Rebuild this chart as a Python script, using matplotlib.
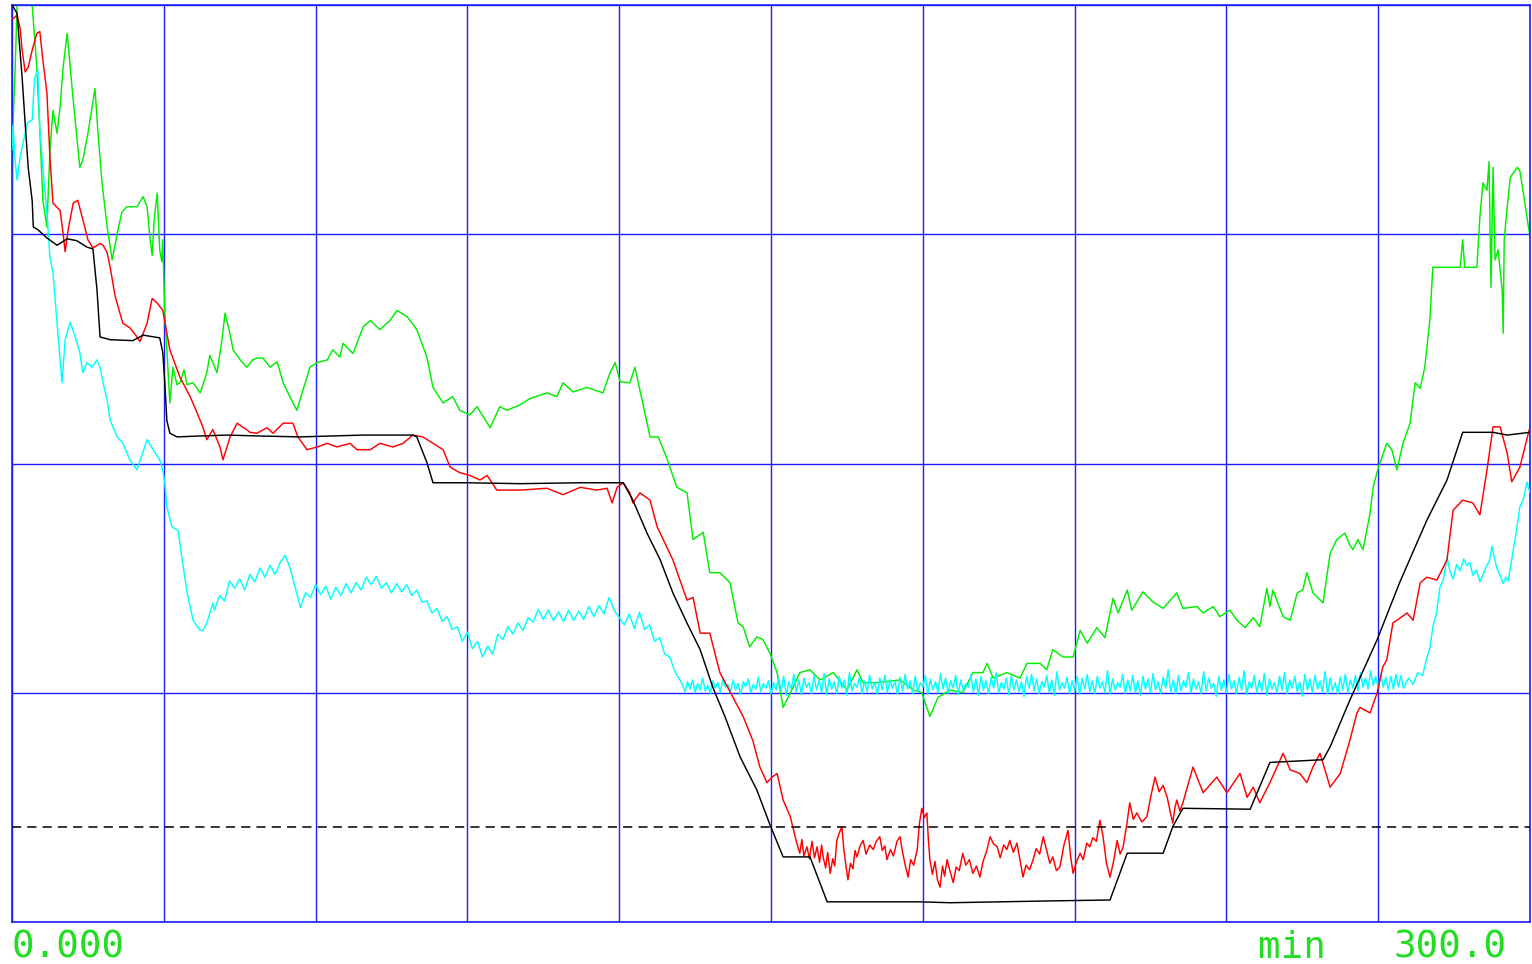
import numpy as np
import matplotlib
matplotlib.use("Agg")
import matplotlib.pyplot as plt

# ---- recorded traces (time in min, signal in % of full scale) ----
black_t = [0, 1.0, 2.0, 2.6, 3.2, 4.0, 4.2, 5.1, 6.9, 8.9, 10.9, 12.8, 14.8, 16.0, 16.8, 17.4,
           19.4, 23.9, 25.9, 29.2, 29.8, 30.2, 30.6, 31.2, 32.6, 37.2, 42.5, 49.0, 56.9, 69.4,
           79.2, 80.0, 82.0, 83.2, 89.9, 100.4, 112.3, 118.2, 120.8, 122.7, 125.5, 128.1, 130.6,
           133.4, 136.0, 138.5, 140.9, 143.9, 147.2, 149.8, 152.4, 157.7, 161.1, 179.4, 185.4,
           195.3, 205.1, 217.0, 220.4, 227.5, 229.4, 231.4, 244.7, 248.6, 259.1, 260.5, 264.4,
           269.8, 274.3, 279.6, 283.6, 286.7, 292.7, 295.5, 300.0]
black_v = [100.0, 99.1, 92.1, 87.1, 82.3, 78.6, 75.8, 75.5, 74.6, 73.8, 74.5, 74.3, 73.6, 73.4, 68.9, 63.8,
           63.5, 63.4, 64.0, 63.7, 62.1, 58.8, 54.7, 53.3, 52.9, 53.0, 53.1, 53.0, 52.9, 53.1,
           53.1, 52.9, 50.1, 47.9, 47.9, 47.8, 47.9, 47.9, 47.9, 46.0, 42.4, 39.5, 35.9,
           32.6, 29.7, 25.6, 22.4, 18.0, 14.4, 10.6, 7.1, 7.1, 2.2, 2.2, 2.1,
           2.2, 2.3, 2.4, 7.5, 7.5, 10.4, 12.4, 12.3, 17.4, 17.7, 19.1, 24.2,
           30.8, 37.1, 43.8, 48.2, 53.4, 53.4, 53.1, 53.4]

red_t = [0, 1.0, 1.6, 2.0, 2.6, 3.2, 4.0, 4.9, 5.5, 6.1, 6.9, 7.5, 8.1, 9.5, 10.1, 10.5, 11.1, 12.1,
         13.0, 14.0, 15.0, 16.0, 17.4, 18.0, 18.8, 19.4, 20.4, 21.9, 23.3, 24.7, 25.3, 26.7, 27.7,
         28.7, 29.8, 31.2, 33.2, 35.2, 36.6, 37.7, 38.5, 39.7, 41.1, 41.7, 43.1, 44.5, 45.5, 46.4,
         47.0, 48.4, 50.4, 51.6, 53.6, 55.5, 56.5, 58.3, 60.3, 62.3, 64.2, 66.8, 68.2, 70.8, 72.7,
         75.3, 77.3, 79.2, 81.2, 83.2, 85.2, 86.6, 88.5, 90.5, 92.5, 93.9, 95.8, 100.4, 105.7, 108.9,
         112.3, 115.6, 117.6, 118.6, 119.6, 120.8, 122.1, 122.7, 124.1, 126.1, 127.5, 129.4, 130.6,
         132.0, 133.4, 134.6, 136.0, 137.9, 139.9, 142.5, 144.5, 146.4, 147.8, 149.2, 150.2, 151.2,
         152.4, 153.8,
         155.1, 155.7, 156.1, 156.5, 157.1, 157.6, 158.1, 158.6, 159.1, 159.6, 160.0, 160.3, 160.8,
         161.2, 161.7, 162.2, 162.6, 163.0, 163.5, 164.0, 164.4, 164.8, 165.2, 165.7, 166.2, 166.6,
         167.0, 167.6, 168.2, 168.8, 169.5, 170.2, 170.8, 171.5, 172.0, 172.5, 172.9, 173.6, 174.2,
         174.9, 175.5, 176.0, 176.6, 177.1, 177.6, 178.2, 178.9, 179.3, 179.8, 180.3, 180.8, 181.1,
         181.4, 181.9, 182.4, 182.9, 183.4, 183.9, 184.3, 184.8, 185.4, 186.0, 186.6, 187.2, 187.9,
         188.5, 189.2, 189.9, 190.6, 191.3, 191.9, 192.6, 193.3, 194.0, 194.7, 195.3, 196.0, 196.6,
         197.2, 197.9, 198.6, 199.2, 199.8, 200.4, 201.1, 201.8, 202.4, 203.1, 203.8, 204.4, 205.1,
         205.7, 206.4, 207.1, 207.9, 208.7, 209.2, 209.7, 210.4, 211.1, 211.7, 212.4, 213.0, 213.6,
         214.3, 215.0, 215.6, 216.3, 217.0, 217.7, 218.4, 219.0, 219.6, 220.3, 220.9, 221.6, 222.3,
         223.3, 224.3, 225.1, 225.9, 226.7, 227.5, 228.3, 228.9, 229.4, 229.8, 230.2, 230.8, 231.4,
         233.4, 235.4, 238.1, 240.1, 242.7, 244.1, 245.3, 246.6, 248.6, 250.0, 251.2, 252.6,
         254.5, 255.9, 257.1, 258.5, 260.5, 262.5, 264.4, 265.8, 266.4, 268.4, 269.8, 270.9, 271.7,
         272.9, 273.7, 275.7, 276.9, 278.3, 279.6, 281.6, 283.6, 284.8, 286.7, 288.7, 290.1, 291.5,
         292.7, 294.1, 295.5, 296.4, 298.0, 300.0]
red_v = [98.4, 98.9, 97.5, 95.1, 92.7, 93.2, 95.1, 96.9, 97.1, 94.0, 90.4, 83.4, 78.4, 77.6, 75.1, 73.1, 75.5, 78.4,
         78.7, 76.6, 74.4, 73.5, 74.0, 73.8, 73.0, 71.4, 68.2, 65.3, 64.8, 63.8, 63.3, 65.3, 68.0,
         67.5, 66.7, 62.4, 59.4, 57.3, 55.5, 54.0, 52.6, 53.7, 51.8, 50.4, 52.9, 54.4, 54.0, 53.7,
         53.4, 53.3, 53.9, 53.3, 54.4, 54.4, 52.9, 51.5, 51.8, 52.2, 51.8, 52.2, 51.5, 51.5, 52.2,
         51.8, 52.2, 53.1, 52.9, 52.2, 51.5, 49.6, 49.0, 48.7, 48.2, 48.7, 47.1, 47.1, 47.3, 46.6,
         47.4, 47.1, 47.3, 45.7, 47.4, 47.9, 46.8, 45.7, 46.8, 46.0, 43.1, 40.9, 39.5,
         37.3, 35.1, 35.4, 31.5, 31.5, 27.2, 24.5, 22.4, 19.8, 16.9, 15.2, 15.8, 16.2,
         13.3, 11.5,
         8.6, 7.5, 9.0, 7.2, 8.2, 6.9, 8.8, 7.0, 8.2, 6.5, 8.4, 7.1, 5.9,
         7.6, 5.3, 6.9, 6.1, 8.9, 9.7, 10.4, 7.9, 6.2, 4.6, 6.4, 5.8, 7.8,
         7.1, 8.3, 8.9, 7.4, 8.4, 7.9, 8.8, 9.3, 7.8, 8.3, 6.8, 7.9, 7.2,
         8.8, 9.3, 7.6, 6.0, 4.9, 6.8, 6.2, 7.9, 10.6, 12.4, 11.4, 11.9, 9.0,
         6.8, 5.2, 6.6, 4.6, 3.8, 6.1, 5.0, 6.8, 5.5, 4.3, 6.0, 5.6, 7.5,
         6.2, 6.8, 5.3, 6.1, 4.9, 6.6, 7.7, 9.3, 8.5, 8.2, 7.0, 8.4, 7.9,
         8.9, 7.6, 8.6, 6.8, 4.9, 6.2, 5.7, 6.8, 8.0, 7.4, 9.3, 8.0, 6.4,
         7.1, 5.6, 6.0, 8.4, 10.0, 7.2, 5.3, 6.6, 7.5, 6.8, 8.6, 8.2, 9.2,
         8.8, 11.1, 9.4, 6.4, 4.9, 6.6, 8.9, 7.4, 8.2, 10.6, 13.0, 11.2, 11.9,
         10.9, 11.5, 13.8, 15.8, 14.2, 14.9, 13.6, 12.0, 10.8, 12.4, 13.3, 12.1, 13.0,
         16.9, 14.1, 15.8, 14.1, 16.2, 13.6, 14.7, 13.0, 15.2, 16.9, 18.4, 16.6,
         16.2, 15.2, 16.9, 18.4, 14.7, 16.2, 19.8, 22.8, 23.4, 22.8, 25.0, 27.8, 28.6,
         32.6, 32.9, 33.7, 32.9, 37.0, 37.6, 37.3, 39.5, 44.9, 46.0, 45.7, 44.4, 49.3,
         54.0, 54.0, 51.1, 48.0, 49.6, 54.0]

green_t = [0, 0.2, 0.6, 1.0, 4.0, 4.2, 4.9, 5.5, 6.1, 6.9, 7.1, 7.5, 8.1, 8.9, 9.5, 10.1, 10.9, 11.5,
           12.1, 13.4, 14.0, 15.0, 16.4, 17.0, 17.8, 18.8, 19.8, 20.8, 21.7, 22.7, 24.7, 25.9, 26.7,
           27.3, 27.7, 28.1, 28.7, 29.2, 29.6, 29.8, 30.2, 30.6, 31.2, 31.8, 32.6, 33.2, 34.0, 34.6,
           35.8, 37.2, 38.5, 39.1, 40.5, 41.5, 42.1, 42.9, 43.7, 45.1, 46.4, 47.6, 48.4, 49.6, 51.0,
           52.4, 53.6, 54.9, 56.3, 57.5, 58.9, 60.3, 62.3, 63.4, 64.8, 65.4, 67.4, 69.4, 70.8, 72.7,
           74.7, 76.1, 78.1, 80.0, 82.0, 83.2, 85.2, 87.1, 88.5, 90.5, 91.9, 94.5, 96.4, 97.8, 100.4,
           102.4, 105.7, 107.7, 108.9, 110.9, 113.6, 116.8, 118.2, 119.2, 120.2, 122.1, 123.1, 124.1,
           126.1, 127.7, 129.4, 131.4, 133.4, 134.6, 136.6, 137.9, 139.9, 141.9, 143.5, 144.5, 145.8,
           147.2, 148.4, 149.8, 151.2, 152.4, 154.1, 155.7, 157.7, 159.7, 162.3, 165.0, 167.0, 168.2,
           170.9, 175.5, 178.1, 179.8, 181.4, 183.0, 185.4, 187.9, 189.9, 191.9, 192.7, 193.9, 196.6,
           199.2, 200.6, 203.2, 204.5, 205.7, 207.7, 209.7, 211.1, 212.5, 214.4, 216.0, 217.6, 218.6,
           220.4, 221.3, 223.5, 225.5, 227.5, 230.2, 231.4, 234.2, 235.4, 237.4, 238.7, 240.7, 242.1,
           243.7, 245.3, 246.6, 248.0, 248.6, 249.2, 251.2, 252.6, 254.0, 255.1, 255.9, 257.1, 259.1,
           260.5, 261.8, 263.4, 264.4, 265.0, 266.0, 267.0, 268.4, 269.0, 270.0, 271.7, 272.7, 273.7,
           274.9, 276.3, 277.3, 278.3, 279.2, 280.2, 280.8, 284.2, 286.2, 286.7, 287.1, 289.5, 290.1,
           290.7, 291.5, 291.9, 292.3, 292.7, 293.1, 293.7, 294.5, 294.7, 294.9, 295.5, 296.1, 297.5,
           298.0, 298.6, 299.6, 300.0]
green_v = [75.1, 87.1, 92.6, 100.0, 100.0, 98.4, 93.2, 86.4, 78.7, 75.8, 78.7, 84.2, 88.5, 86.0, 88.9, 93.2, 96.9, 93.2,
           89.6, 82.3, 83.1, 86.0, 90.9, 86.0, 80.6, 75.8, 72.2, 75.1, 77.4, 78.0, 78.0, 79.1, 78.0,
           74.4, 72.7, 76.6, 79.5, 73.3, 72.0, 74.4, 66.4, 62.4, 56.6, 60.5, 58.6, 58.8, 60.2, 58.6,
           58.8, 57.7, 59.9, 61.8, 59.9, 63.5, 66.4, 64.6, 62.4, 61.3, 60.5, 61.3, 61.5, 61.5, 60.5,
           61.1, 58.8, 57.3, 55.8, 58.0, 60.5, 61.0, 61.3, 62.4, 61.6, 63.1, 62.0, 64.9, 65.6, 64.6,
           65.6, 66.7, 66.0, 64.6, 61.6, 58.3, 56.6, 57.3, 55.8, 55.3, 56.2, 53.9, 56.2, 55.8, 56.4,
           57.1, 57.7, 57.3, 58.8, 57.8, 58.3, 57.7, 59.9, 61.0, 58.9, 58.8, 60.5, 58.0,
           52.9, 52.9, 50.6, 47.4, 46.8, 41.7, 42.5, 38.1, 38.1, 37.0, 32.6, 32.2, 30.0,
           31.1, 30.8, 29.3, 27.2, 23.4, 25.3, 27.2, 27.5, 26.4, 27.2, 25.3, 27.5, 26.1,
           26.1, 26.4, 25.3, 25.0, 22.4, 24.5, 25.3, 25.0, 27.2, 27.2, 28.2, 26.6, 27.2,
           26.6, 28.2, 28.2, 27.5, 29.7, 28.9, 28.9, 31.8, 30.4, 32.1, 31.0, 35.3, 33.7,
           36.2, 34.0, 36.0, 34.9, 34.2, 35.9, 34.2, 34.4, 33.7, 34.4, 33.3, 34.0, 32.9,
           32.1, 33.2, 32.2, 36.4, 34.4, 36.2, 33.3, 32.9, 35.9, 36.2, 38.1, 35.9, 34.8,
           40.2, 41.7, 42.4, 41.1, 40.6, 41.7, 40.6, 44.6, 47.4, 49.5, 52.2, 51.5, 49.3,
           52.2, 54.4, 58.8, 58.2, 60.5, 65.6, 71.4, 71.4, 71.4, 74.4, 71.4, 71.4, 76.9,
           80.6, 79.8, 82.9, 69.2, 82.3, 72.2, 73.3, 68.9, 64.2, 74.4, 78.0, 81.2, 82.3,
           81.9, 79.8, 76.2, 74.7]

# cyan: irregular start, then regular samples (1 min, then 0.5 min), then the final rise
cyan_head_t = [0, 0.2, 0.6, 1.0, 1.6, 2.2, 3.0, 4.0, 4.2, 4.5, 5.1, 5.5, 6.1, 6.9, 7.5, 8.1, 8.9,
               9.9, 10.5, 11.5, 12.5, 13.4, 14.0, 14.8, 15.8, 16.8, 17.4, 18.0, 18.8, 19.4, 20.8,
               21.9, 23.3, 24.7, 26.7, 27.9, 29.2, 29.8, 30.2, 30.6, 31.6, 32.8, 34.6, 35.8, 36.6,
               37.2, 37.7, 38.5, 39.1, 39.7]
cyan_head_v = [84.2, 86.9, 83.1, 80.9, 83.4, 85.0, 87.1, 87.5, 89.6, 92.1, 92.9, 86.4, 82.3, 77.3, 72.5, 70.8, 65.3,
               58.8, 63.5, 65.4, 63.8, 62.1, 59.9, 61.0, 60.5, 61.3, 60.5, 58.8, 56.9, 54.7, 52.9,
               52.2, 50.4, 49.3, 52.6, 51.5, 50.4, 49.3, 47.9, 45.3, 43.1, 42.7, 35.9, 32.9, 32.2,
               31.8, 31.8, 32.6, 33.7, 34.8]
# one reading per minute, 40 .. 132 min
cyan_minute_v = [34.0, 35.6, 35.0, 37.2, 36.4, 37.4, 36.2, 37.9, 37.1, 38.6,
                 37.6, 38.9, 37.9, 39.2, 40.0, 38.5, 36.4, 34.3, 35.9, 35.4,
                 36.8, 35.7, 36.6, 35.2, 36.5, 35.6, 36.9, 35.9, 37.0, 36.2,
                 37.6, 36.8, 37.7, 36.4, 37.0, 35.9, 36.9, 36.0, 36.8, 35.6,
                 36.2, 34.9, 35.0, 33.7, 34.2, 32.8, 33.3, 31.9, 32.2, 30.6,
                 31.6, 29.8, 30.6, 28.9, 30.1, 29.2, 31.4, 30.8, 32.2, 31.4,
                 32.6, 31.8, 33.2, 32.7, 34.1, 33.0, 34.0, 32.9, 33.8, 32.8,
                 34.0, 32.9, 33.9, 33.0, 34.4, 33.3, 34.5, 33.6, 35.4, 34.0,
                 33.2, 32.4, 33.6, 32.0, 33.8, 31.9, 32.4, 30.6, 31.0, 29.2,
                 28.9, 27.3, 26.4]
# two readings per minute, 132.5 .. 275 min
cyan_halfmin_v = [
    25.9, 25.1, 26.2, 25.4, 26.4, 25.0, 26.0, 25.3, 26.6, 25.2, 25.8, 24.9, 26.3, 25.5, 26.1, 25.0, 26.5, 25.6, 25.9, 25.1,
    26.4, 25.3, 26.0, 24.8, 26.2, 25.7, 26.5, 25.0, 25.9, 25.4, 26.7, 25.1, 26.0, 25.5, 26.3, 24.9, 26.1, 25.3, 26.6, 25.2,
    26.8, 24.7, 26.2, 25.4, 27.0, 25.1, 26.4, 24.8, 26.6, 25.6, 26.1, 24.9, 26.9, 25.3, 26.3, 25.0, 27.1, 24.8, 26.5, 25.4,
    26.2, 24.9, 26.8, 25.5, 26.4, 24.7, 27.2, 25.2, 26.0, 25.6, 26.7, 24.9, 26.3, 25.1, 26.9, 25.4, 26.1, 24.8, 26.6, 25.3,
    26.9, 25.0, 26.4, 25.5, 26.2, 24.8, 26.7, 25.2, 27.0, 25.4, 26.3, 24.9, 26.8, 25.1, 26.1, 25.6, 26.9, 24.8, 26.5, 25.3,
    26.2, 25.0, 27.1, 25.4, 26.6, 24.9, 26.3, 25.5, 26.9, 24.8, 26.4, 25.2, 26.0, 25.6, 27.0, 25.1, 26.5, 24.7, 26.8, 25.3,
    26.3, 24.9, 26.7, 25.5, 27.2, 25.0, 26.1, 25.4, 26.6, 24.8, 26.9, 25.3, 26.4, 25.1, 26.2, 24.6, 26.8, 25.5, 27.0, 25.2,
    26.5, 24.9, 26.2, 25.6, 26.9, 25.0, 26.4, 24.7, 27.3, 25.3, 26.1, 25.5, 26.7, 24.9, 26.3, 25.2, 26.8, 24.8, 26.6, 25.4,
    27.0, 25.1, 26.3, 24.9, 26.8, 25.5, 26.2, 25.0, 27.4, 24.8, 26.5, 25.3, 26.1, 25.6, 27.0, 24.9, 26.4, 25.2, 26.9, 25.0,
    26.3, 24.7, 26.8, 25.4, 26.5, 25.0, 27.1, 25.3, 26.2, 24.9, 26.7, 25.5, 27.5, 25.1, 26.4, 24.8, 26.9, 25.2, 26.3, 25.6,
    27.2, 25.0, 26.5, 25.4, 26.2, 24.9, 27.3, 25.2, 26.6, 25.5, 26.0, 24.6, 26.8, 25.3, 26.4, 25.0, 27.0, 25.4, 26.3, 24.9,
    26.7, 25.3, 27.4, 24.8, 26.2, 25.5, 26.9, 25.0, 26.4, 25.2, 27.1, 24.7, 26.5, 25.4, 26.1, 25.0, 26.8, 25.3, 27.2, 24.9,
    26.4, 25.5, 26.8, 25.1, 26.2, 24.6, 27.0, 25.3, 26.5, 25.0, 26.9, 25.4, 26.3, 25.1, 27.3, 24.8, 26.6, 25.2, 26.1, 24.9,
    26.7, 25.3, 27.0, 25.0, 26.4, 25.5, 26.9, 25.2, 27.2, 25.6, 26.6, 25.4, 27.4, 25.8, 26.8, 25.5, 27.1, 25.6, 26.7, 25.3,
    26.8, 25.4, 27.0, 25.6, 26.9, 25.5]
cyan_tail_t = [276.0, 276.9, 277.8, 278.8, 279.5, 280.2, 280.8, 281.5, 282.2, 282.9, 283.6, 284.2,
               284.8, 285.5, 286.2, 286.9, 287.5, 288.1, 288.7, 289.4, 290.1, 290.8, 291.5, 292.0,
               292.5, 293.0, 293.5, 294.1, 294.7, 295.2, 295.7, 296.6, 297.3, 298.0, 298.7, 299.4, 300.0]
cyan_tail_v = [26.6, 25.9, 27.2, 26.9, 28.6, 29.8, 32.2, 33.6, 36.5, 37.4, 39.8, 38.2,
               37.4, 39.0, 38.3, 39.6, 38.9, 39.2, 37.8, 38.4, 37.1, 38.0, 38.9, 39.4,
               41.0, 39.6, 38.5, 37.8, 36.9, 37.6, 37.2, 40.2, 42.6, 45.3, 46.1, 48.0, 46.8]

alarm_level = 10.4          # dashed limit line
t_span = (0.0, 300.0)
x_label_left = "0.000"
x_label_unit = "min"
x_label_right = "300.0"

cyan_t = np.concatenate([cyan_head_t,
                         np.arange(40, 40 + len(cyan_minute_v)),
                         132.5 + 0.5 * np.arange(len(cyan_halfmin_v)),
                         cyan_tail_t])
cyan_v = np.concatenate([cyan_head_v, cyan_minute_v, cyan_halfmin_v, cyan_tail_v])

W, H = 1532, 964
fig = plt.figure(figsize=(W / 100, H / 100), dpi=100)
fig.patch.set_facecolor("white")
ax = fig.add_axes([12 / W, 42 / H, 1518 / W, 917 / H])
ax.set_xlim(*t_span)
ax.set_ylim(0, 100)
ax.set_xticks(np.arange(0, 301, 30))
ax.set_yticks(np.arange(0, 101, 25))
ax.tick_params(length=0, labelbottom=False, labelleft=False)
grid_blue = "#1c1cff"
ax.grid(True, color=grid_blue, lw=1.0, zorder=0)
ax.set_axisbelow(True)
for s in ax.spines.values():
    s.set_color(grid_blue)
    s.set_linewidth(1.2)

lw = 1.05
ax.plot(green_t, green_v, color="#00ee00", lw=lw, zorder=2)
ax.plot(cyan_t, cyan_v, color="#00ffff", lw=lw, zorder=3)
ax.plot(red_t, red_v, color="#ff0000", lw=lw, zorder=4)
ax.plot(black_t, black_v, color="#000000", lw=lw, zorder=5)
ax.axhline(alarm_level, color="black", lw=1.1, ls=(0, (6, 4)), zorder=5)

txt_kw = dict(color="#22dd22", fontsize=27, family="DejaVu Sans Mono", va="baseline")
fig.text(12 / W, 1 - 958 / H, x_label_left, ha="left", **txt_kw)
fig.text(1258 / W, 1 - 958 / H, x_label_unit, ha="left", **txt_kw)
fig.text(1507 / W, 1 - 958 / H, x_label_right, ha="right", **txt_kw)

fig.savefig("out.png", dpi=100, facecolor="white")
